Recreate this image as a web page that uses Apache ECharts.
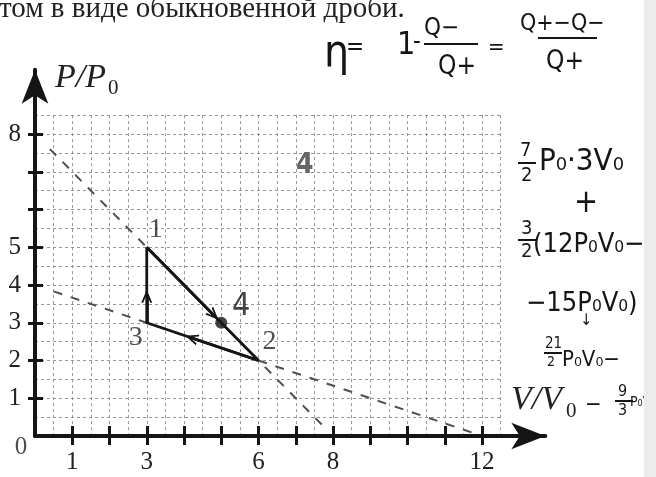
<!DOCTYPE html>
<html><head><meta charset="utf-8">
<script src="https://cdn.jsdelivr.net/npm/echarts@6/dist/echarts.min.js"></script>
<style>html,body{margin:0;padding:0;background:#fff}#c{width:656px;height:477px}</style>
</head><body><div id="c"></div>
<script>
// ---- data ----
const cycleV = [3, 6, 3, 3];          // 1 -> 2 -> 3 -> 1
const cycleP = [5, 2, 3, 5];
const stateNames = ['1', '2', '3'];
const stateV = [3, 6, 3];
const stateP = [5, 2, 3];
const point4 = [5, 3];
const lineAV = [0.4, 7.8];            // dashed line P = 8 - V
const lineAP = [7.6, 0.2];
const lineBV = [0.5, 11.8];           // dashed line P = 4 - V/3
const lineBP = [3.83, 0.07];
const arrowFromV = [3, 6, 3], arrowFromP = [5, 2, 3];
const arrowToV = [4.8, 4.2, 3], arrowToP = [3.2, 2.6, 3.7];
const xTickValues = [1,2,3,4,5,6,7,8,9,10,11,12];
const xLabelValues = [1, 3, 6, 8, 12];
const yTickValues = [1,2,3,4,5,6,7,8];
const yLabelValues = [1, 2, 3, 4, 5, 8];

// ---- layout ----
const UX = 37.25, UY = 37.75, OX = 35, OY = 436;
const XMAX = 13.7, YMAX = 9.7, PX = 12.5, PY = 8.5;
const SERIF = '"Liberation Serif","Times New Roman",serif';
const HAND = '"DejaVu Sans Condensed","DejaVu Sans",sans-serif';
const INK = '#151515';
const chevron = 'path://M0,12 L5,0 L10,12 L8.2,12 L5,4 L1.8,12 Z';

const stateOffsets = {'1': [9, -18], '2': [11, -19], '3': [-11, 15]};

function T(text, x, y, font, opts) {
  opts = opts || {};
  return {type: 'text', x: x, y: y, silent: true, z: 10,
    style: Object.assign({text: text, font: font, fill: opts.fill || INK,
      align: opts.align || 'left', textAlign: opts.align || 'left',
      verticalAlign: 'middle', textVerticalAlign: 'middle'}, opts.style || {})};
}
function L(x1, y1, x2, y2, w) {
  return {type: 'line', silent: true, z: 10, shape: {x1: x1, y1: y1, x2: x2, y2: y2},
    style: {stroke: INK, lineWidth: w || 2.2}};
}

const chart = echarts.init(document.getElementById('c'));
const option = {
  animation: false,
  backgroundColor: '#fff',
  grid: [
    {left: OX, top: OY - YMAX * UY, width: XMAX * UX, height: YMAX * UY, outerBoundsMode: 'none', containLabel: false},
    {left: OX, top: OY - PY * UY, width: PX * UX, height: PY * UY, outerBoundsMode: 'none', containLabel: false}
  ],
  xAxis: [
    {type: 'value', gridIndex: 0, min: 0, max: XMAX, interval: 1, z: 3,
      axisLine: {show: true, onZero: false, symbol: ['none', 'arrow'], symbolSize: [20, 34], lineStyle: {color: INK, width: 4}},
      axisTick: {show: true, customValues: xTickValues, length: 9, lineStyle: {color: INK, width: 3}},
      axisLabel: {show: true, customValues: xLabelValues, margin: 14, fontFamily: SERIF, fontSize: 25, color: '#222'},
      splitLine: {show: false}},
    {type: 'value', gridIndex: 0, position: 'bottom', offset: 0, min: 0, max: XMAX, interval: 1, z: 3,
      axisLine: {show: false, onZero: false},
      axisTick: {show: true, inside: true, customValues: xTickValues, length: 10, lineStyle: {color: INK, width: 3}},
      axisLabel: {show: false}, splitLine: {show: false}},
    {type: 'value', gridIndex: 1, min: 0, max: PX, interval: 0.5, z: 0,
      axisLine: {show: false}, axisTick: {show: false}, axisLabel: {show: false},
      splitLine: {show: true, lineStyle: {color: '#959595', type: [3, 3], width: 1}}}
  ],
  yAxis: [
    {type: 'value', gridIndex: 0, min: 0, max: YMAX, interval: 1, z: 3,
      axisLine: {show: true, onZero: false, symbol: ['none', 'arrow'], symbolSize: [20, 34], lineStyle: {color: INK, width: 4}},
      axisTick: {show: true, customValues: yTickValues, length: 7, lineStyle: {color: INK, width: 3}},
      axisLabel: {show: true, customValues: yLabelValues, margin: 14, fontFamily: SERIF, fontSize: 25, color: '#222'},
      splitLine: {show: false}},
    {type: 'value', gridIndex: 0, position: 'left', offset: 0, min: 0, max: YMAX, interval: 1, z: 3,
      axisLine: {show: false, onZero: false},
      axisTick: {show: true, inside: true, customValues: yTickValues, length: 8, lineStyle: {color: INK, width: 3}},
      axisLabel: {show: false}, splitLine: {show: false}},
    {type: 'value', gridIndex: 1, min: 0, max: PY, interval: 0.5, z: 0,
      axisLine: {show: false}, axisTick: {show: false}, axisLabel: {show: false},
      splitLine: {show: true, lineStyle: {color: '#959595', type: [3, 3], width: 1}}}
  ],
  series: [
    {type: 'line', name: 'A', xAxisIndex: 0, yAxisIndex: 0, silent: true, symbol: 'none',
      data: lineAV.map((v, i) => [v, lineAP[i]]),
      lineStyle: {type: [9, 9], color: '#505050', width: 2}},
    {type: 'line', name: 'B', xAxisIndex: 0, yAxisIndex: 0, silent: true, symbol: 'none',
      data: lineBV.map((v, i) => [v, lineBP[i]]),
      lineStyle: {type: [9, 9], color: '#505050', width: 2}},
    {type: 'line', name: 'cycle', xAxisIndex: 0, yAxisIndex: 0, silent: true, symbol: 'none',
      data: cycleV.map((v, i) => [v, cycleP[i]]),
      lineStyle: {color: INK, width: 2.8},
      markLine: {silent: true, animation: false, symbol: ['none', chevron], symbolSize: [11, 13],
        lineStyle: {color: INK, width: 2.8, type: 'solid'}, label: {show: false},
        emphasis: {disabled: true},
        data: arrowFromV.map((v, i) => [{coord: [v, arrowFromP[i]]}, {coord: [arrowToV[i], arrowToP[i]]}])}},
    {type: 'scatter', name: 'p4', xAxisIndex: 0, yAxisIndex: 0, silent: true,
      data: [point4], symbolSize: 12, itemStyle: {color: INK},
      label: {show: true, formatter: '4', position: 'inside', offset: [20, -16], color: INK,
        fontFamily: HAND, fontSize: 32}},
    {type: 'scatter', name: 'states', xAxisIndex: 0, yAxisIndex: 0, silent: true, symbolSize: 1,
      itemStyle: {color: 'rgba(0,0,0,0)'},
      data: stateV.map((v, i) => ({value: [v, stateP[i]], name: stateNames[i],
        label: {offset: stateOffsets[stateNames[i]], fontSize: 28, fontFamily: SERIF}})),
      label: {show: true, formatter: p => p.name, position: 'inside', color: '#222',
        fontFamily: SERIF, fontSize: 28}},
    {type: 'scatter', name: 'origin', xAxisIndex: 0, yAxisIndex: 0, silent: true, symbolSize: 1,
      itemStyle: {color: 'rgba(0,0,0,0)'}, data: [[0, 0]],
      label: {show: true, formatter: '0', position: 'inside', offset: [-14, 11], color: '#222',
        fontFamily: SERIF, fontSize: 25}}
  ],
  graphic: [
    T('том в виде обыкновенной дроби.', -1, 9, '29px ' + SERIF, {fill: '#222'}),
    T('P/P', 55, 78, 'italic 34px ' + SERIF, {fill: '#222'}),
    T('0', 108, 88, '21px ' + SERIF, {fill: '#222'}),
    T('V/V', 511, 400, 'italic 34px ' + SERIF, {fill: '#222'}),
    T('0', 566, 411, '21px ' + SERIF, {fill: '#222'}),
    // handwritten efficiency formula
    T('η', 324, 55, '44px ' + HAND),
    T('=', 346, 48, '24px ' + HAND),
    T('1', 397, 46, '32px ' + HAND),
    T('-', 413, 43, '24px ' + HAND),
    T('Q−', 424, 29, '24px ' + HAND),
    L(424, 44, 478, 44),
    T('Q+', 438, 67, '26px ' + HAND),
    T('=', 488, 48, '22px ' + HAND),
    T('Q+−Q−', 520, 24, '23px ' + HAND),
    L(538, 38, 597, 38),
    T('Q+', 546, 62, '26px ' + HAND),
    // handwritten calculation on the right
    T('7', 520, 151, '20px ' + HAND), L(518, 163, 536, 163, 2), T('2', 521, 176, '20px ' + HAND),
    T('P₀·3V₀', 539, 162, '31px ' + HAND),
    T('+', 574, 204, '32px ' + HAND),
    T('3', 521, 229, '20px ' + HAND), L(518, 240, 536, 240, 2), T('2', 521, 252, '20px ' + HAND),
    T('(12P₀V₀−', 533, 245, '27px ' + HAND),
    T('−15P₀V₀)', 526, 304, '27px ' + HAND),
    T('↓', 580, 321, '16px ' + HAND),
    T('21', 545, 344, '15px ' + HAND), L(544, 353, 562, 353, 2), T('2', 547, 362, '14px ' + HAND),
    T('P₀V₀−', 562, 360, '22px ' + HAND),
    T('−', 585, 405, '22px ' + HAND),
    T('9', 618, 392, '16px ' + HAND), L(615, 401, 633, 401, 2), T('3', 618, 411, '16px ' + HAND),
    T('P₀V₀', 630, 402, '14px ' + HAND),
    T('4', 296, 166, 'bold 28px ' + HAND, {fill: '#666'}),
    {type: 'rect', silent: true, z: 11, shape: {x: 644, y: 0, width: 12, height: 477}, style: {fill: '#ececec'}}
  ]
};
chart.setOption(option);
</script>
</body></html>
